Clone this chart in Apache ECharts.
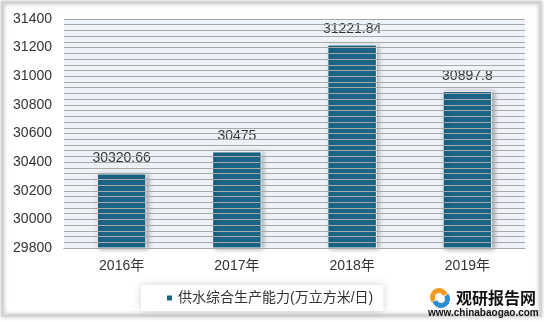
<!DOCTYPE html>
<html><head><meta charset="utf-8">
<script src="https://cdn.jsdelivr.net/npm/echarts@6/dist/echarts.min.js"></script>
<style>html,body{margin:0;padding:0;background:#fff}#c{width:544px;height:322px}</style>
</head><body><div id="c"></div>
<script>
var categories = ['2016年', '2017年', '2018年', '2019年'];
var values = [30320.66, 30475, 31221.84, 30897.8];
var seriesName = '供水综合生产能力(万立方米/日)';
var yMin = 29800, yMax = 31400, yStep = 200, minorSplit = 5;

var gridValues = [];
for (var v = yMin; v <= yMax + 0.001; v += yStep / minorSplit) { gridValues.push({yAxis: Math.round(v)}); }

var chart = echarts.init(document.getElementById('c'));
var font = '"Liberation Sans", Arial, "Noto Sans CJK SC", sans-serif';
chart.setOption({
  animation: false,
  textStyle: {fontFamily: font},
  graphic: [
    {type: 'rect', shape: {x: 2.5, y: 2.5, width: 538, height: 313}, style: {fill: 'none', stroke: '#d4d4d4', lineWidth: 3, shadowBlur: 4, shadowColor: 'rgba(0,0,0,0.25)'}, z: -10},
    {type: 'group', left: 428, top: 288, children: [
      {type: 'sector', shape: {cx: 10, cy: 8, r: 9, r0: 4, startAngle: Math.PI * 0.8, endAngle: Math.PI * 1.9}, style: {fill: '#f39a1e'}},
      {type: 'sector', shape: {cx: 12, cy: 10, r: 9, r0: 4, startAngle: -Math.PI * 0.2, endAngle: Math.PI * 0.9}, style: {fill: '#2a8dd0'}},
      {type: 'text', x: 27, y: 1, style: {text: '观研报告网', font: 'bold 16px "Noto Sans CJK SC", sans-serif', fill: '#111'}},
      {type: 'text', x: -1, y: 19, style: {text: 'www.chinabaogao.com', font: 'bold 10px "Liberation Sans", Arial, sans-serif', fill: '#111'}}
    ]}
  ],
  grid: {left: 64, right: 19, top: 19, bottom: 74, show: true, backgroundColor: '#eef3f9', borderWidth: 0},
  legend: {
    data: [seriesName], left: 141, top: 285, width: 190, height: 25,
    padding: [6, 10, 6, 24], itemWidth: 7, itemHeight: 7, itemGap: 5,
    backgroundColor: '#fff', shadowBlur: 8, shadowColor: 'rgba(0,0,0,0.18)',
    icon: 'rect',
    textStyle: {fontSize: 14, color: '#333', fontFamily: font}
  },
  xAxis: {
    type: 'category', data: categories,
    axisLine: {lineStyle: {color: '#8c8c8c', width: 1}},
    axisTick: {show: false},
    axisLabel: {fontSize: 14, color: '#333', margin: 11}
  },
  yAxis: {
    type: 'value', min: yMin, max: yMax, interval: yStep,
    axisLabel: {fontSize: 14, color: '#333', margin: 12, formatter: function (v) { return String(v); }},
    splitLine: {show: true, lineStyle: {color: '#a8a8a8', width: 1}},
    minorTick: {show: false, splitNumber: minorSplit},
    minorSplitLine: {show: true, lineStyle: {color: '#a8a8a8', width: 1}}
  },
  series: [{
    name: 'grid', type: 'line', data: categories.map(function () { return '-'; }), z: 1,
    showSymbol: false, silent: true, lineStyle: {width: 0},
    markLine: {
      silent: true, symbol: ['none', 'none'], animation: false,
      label: {show: false},
      lineStyle: {color: '#a8a8a8', width: 1, type: 'solid'},
      emphasis: {disabled: true},
      data: gridValues
    }
  }, {
    name: seriesName, type: 'bar', data: values, barWidth: '43%', z: 3,
    itemStyle: {color: '#1b6587', borderColor: '#fff', borderWidth: 1, shadowBlur: 5, shadowOffsetX: 2, shadowOffsetY: 1, shadowColor: 'rgba(0,0,0,0.35)'},
    label: {show: true, position: 'top', distance: 8, fontSize: 14, color: '#333'}
  }]
});
</script></body></html>
